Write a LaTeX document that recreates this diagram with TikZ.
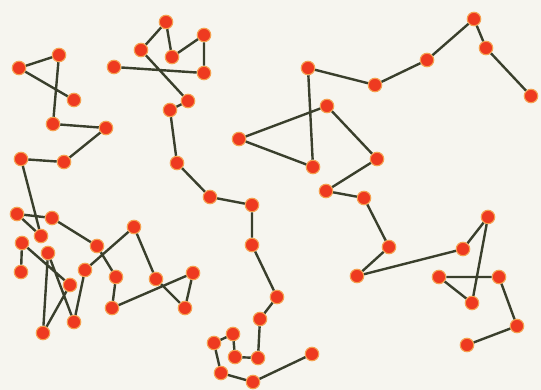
\documentclass[tikz,border=0pt]{standalone}
\definecolor{bgc}{HTML}{F6F5EF}
\definecolor{dotred}{HTML}{EE3A20}
\definecolor{dotglow}{HTML}{F5A050}
\definecolor{linkc}{HTML}{3A3F2C}
\tikzset{
  dot/.style={circle, minimum size=13.5pt, inner sep=0pt, fill=dotred, draw=dotglow, line width=1.1pt},
  link/.style={draw=linkc, line width=2.4pt}
}
\begin{document}
\begin{tikzpicture}[x=1pt,y=-1pt]
\fill[bgc] (0,0) rectangle (541,390);
\useasboundingbox (0,0) rectangle (541,390);
% chain A
\node[dot] (a1) at (74,100) {};
\node[dot] (a2) at (19,68) {};
\node[dot] (a3) at (59,55) {};
\node[dot] (a4) at (53,124) {};
\node[dot] (a5) at (106,128) {};
\node[dot] (a6) at (64,162) {};
\node[dot] (a7) at (21,159) {};
\node[dot] (a8) at (41,236) {};
\node[dot] (a9) at (17,214) {};
\node[dot] (a10) at (52,218) {};
\node[dot] (a11) at (97,246) {};
\node[dot] (a12) at (116,277) {};
\node[dot] (a13) at (112,308) {};
\node[dot] (a14) at (193,273) {};
\node[dot] (a15) at (185,308) {};
\node[dot] (a16) at (156,279) {};
\node[dot] (a17) at (134,227) {};
\node[dot] (a18) at (85,270) {};
\node[dot] (a19) at (74,322) {};
\node[dot] (a20) at (48,253) {};
\node[dot] (a21) at (43,333) {};
\node[dot] (a22) at (70,285) {};
\node[dot] (a23) at (22,243) {};
\node[dot] (a24) at (21,272) {};
% chain B
\node[dot] (b1) at (114,67) {};
\node[dot] (b2) at (204,73) {};
\node[dot] (b3) at (204,35) {};
\node[dot] (b4) at (172,57) {};
\node[dot] (b5) at (166,22) {};
\node[dot] (b6) at (141,50) {};
\node[dot] (b7) at (188,101) {};
\node[dot] (b8) at (170,110) {};
\node[dot] (b9) at (177,163) {};
\node[dot] (b10) at (210,197) {};
\node[dot] (b11) at (252,205) {};
\node[dot] (b12) at (252,245) {};
\node[dot] (b13) at (277,297) {};
\node[dot] (b14) at (260,319) {};
\node[dot] (b15) at (258,358) {};
\node[dot] (b16) at (235,357) {};
\node[dot] (b17) at (233,334) {};
\node[dot] (b18) at (214,343) {};
\node[dot] (b19) at (221,373) {};
\node[dot] (b20) at (253,382) {};
\node[dot] (b21) at (312,354) {};
% chain C
\node[dot] (c1) at (531,96) {};
\node[dot] (c2) at (486,48) {};
\node[dot] (c3) at (474,19) {};
\node[dot] (c4) at (427,60) {};
\node[dot] (c5) at (375,85) {};
\node[dot] (c6) at (308,68) {};
\node[dot] (c7) at (313,167) {};
\node[dot] (c8) at (239,139) {};
\node[dot] (c9) at (327,106) {};
\node[dot] (c10) at (377,159) {};
\node[dot] (c11) at (326,191) {};
\node[dot] (c12) at (364,198) {};
\node[dot] (c13) at (389,247) {};
\node[dot] (c14) at (357,276) {};
\node[dot] (c15) at (463,249) {};
\node[dot] (c16) at (488,217) {};
\node[dot] (c17) at (472,303) {};
\node[dot] (c18) at (439,277) {};
\node[dot] (c19) at (499,277) {};
\node[dot] (c20) at (517,326) {};
\node[dot] (c21) at (467,345) {};
% links
\path[link] (a1) -- (a2) -- (a3) -- (a4) -- (a5) -- (a6) -- (a7) -- (a8) -- (a9) -- (a10) -- (a11) -- (a12) -- (a13) -- (a14) -- (a15) -- (a16) -- (a17) -- (a18) -- (a19) -- (a20) -- (a21) -- (a22) -- (a23) -- (a24);
\path[link] (b1) -- (b2) -- (b3) -- (b4) -- (b5) -- (b6) -- (b7) -- (b8) -- (b9) -- (b10) -- (b11) -- (b12) -- (b13) -- (b14) -- (b15) -- (b16) -- (b17) -- (b18) -- (b19) -- (b20) -- (b21);
\path[link] (c1) -- (c2) -- (c3) -- (c4) -- (c5) -- (c6) -- (c7) -- (c8) -- (c9) -- (c10) -- (c11) -- (c12) -- (c13) -- (c14) -- (c15) -- (c16) -- (c17) -- (c18) -- (c19) -- (c20) -- (c21);
\end{tikzpicture}
\end{document}
